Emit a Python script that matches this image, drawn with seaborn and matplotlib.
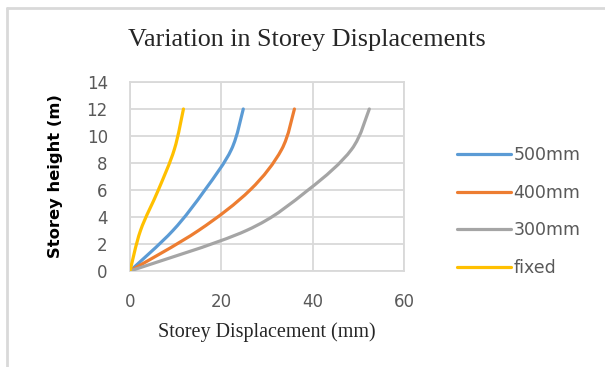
import numpy as np
import pandas as pd
import matplotlib
matplotlib.use("Agg")
import matplotlib.pyplot as plt
from matplotlib.path import Path
from matplotlib.patches import PathPatch
from matplotlib.lines import Line2D
import seaborn as sns

# Storey heights (m) and lateral displacement (mm) for each case
heights = [0, 3, 6, 9, 12]
disp_500mm = [0, 9.4, 16.4, 22.2, 24.8]
disp_400mm = [0, 15.0, 26.3, 33.2, 36.0]
disp_300mm = [0, 25.5, 39.0, 48.5, 52.4]
disp_fixed = [0, 2.3, 6.2, 9.7, 11.7]

cases = ["500mm", "400mm", "300mm", "fixed"]
colors = ["#5B9BD5", "#ED7D31", "#A5A5A5", "#FFC000"]
series = [disp_500mm, disp_400mm, disp_300mm, disp_fixed]

df = pd.concat(
    [pd.DataFrame({"disp": d, "height": heights, "case": c}) for c, d in zip(cases, series)],
    ignore_index=True,
)

sns.set_theme(style="white")
plt.rcParams["font.family"] = ["DejaVu Sans"]

fig = plt.figure(figsize=(6.05, 3.67), dpi=100)
ax = fig.add_axes([0.2149, 0.2616, 0.4529, 0.5150])

sns.lineplot(data=df, x="disp", y="height", hue="case", hue_order=cases,
             palette=colors, sort=False, estimator=None, linewidth=2.3,
             legend=False, ax=ax)


def smooth_path(xs, ys):
    """Cubic Bezier path through the points (spreadsheet-style smoothing)."""
    pts = np.column_stack([xs, ys]).astype(float)
    n = len(pts)
    verts = [pts[0]]
    codes = [Path.MOVETO]
    for i in range(n - 1):
        p0 = pts[max(i - 1, 0)]
        p1 = pts[i]
        p2 = pts[i + 1]
        p3 = pts[min(i + 2, n - 1)]
        c1 = p1 + (p2 - p0) / 6.0
        c2 = p2 - (p3 - p1) / 6.0
        verts += [c1, c2, p2]
        codes += [Path.CURVE4] * 3
    return Path(verts, codes)


# Replace straight segments with smoothed curves in the same colours
for line, color in zip(ax.lines, colors):
    xs, ys = line.get_xdata(), line.get_ydata()
    patch = PathPatch(smooth_path(xs, ys), facecolor="none", edgecolor=color,
                      linewidth=2.3, capstyle="round", joinstyle="round", zorder=3)
    ax.add_patch(patch)
    line.set_data([], [])

ax.set_xlim(0, 60)
ax.set_ylim(0, 14)
ax.set_xticks([0, 20, 40, 60])
ax.set_yticks(range(0, 15, 2))
ax.grid(True, color="#d9d9d9", linewidth=1.3)
ax.set_axisbelow(True)
for sp in ax.spines.values():
    sp.set_color("#d9d9d9")
    sp.set_linewidth(1.3)
ax.tick_params(axis="both", colors="#595959", labelsize=12, length=0)
ax.tick_params(axis="x", pad=16)
ax.tick_params(axis="y", pad=16)

ax.set_xlabel("Storey Displacement (mm)", family="Liberation Serif", fontsize=14.5,
              color="#262626", labelpad=8)
ax.set_ylabel("Storey height (m)", fontsize=11.8, fontweight="bold", color="black",
              labelpad=17)
fig.text(0.507, 0.892, "Variation in Storey Displacements", family="Liberation Serif",
         fontsize=18.8, color="#262626", ha="center", va="center")

handles = [Line2D([], [], color=c, linewidth=2.3) for c in colors]
fig.legend(handles, cases, loc="center left", bbox_to_anchor=(0.755, 0.424),
           frameon=False, fontsize=12.5, labelcolor="#595959", handlelength=3.1,
           handletextpad=0.15, labelspacing=1.13, borderaxespad=0, borderpad=0)

# Outer chart frame
fig.add_artist(Line2D([0.0116, 1.0], [0.978, 0.978], transform=fig.transFigure,
                      color="#d9d9d9", linewidth=2))
fig.add_artist(Line2D([0.0116, 0.0116], [0.0, 0.978], transform=fig.transFigure,
                      color="#d9d9d9", linewidth=2))

fig.savefig("out.png", dpi=100, facecolor="white")
